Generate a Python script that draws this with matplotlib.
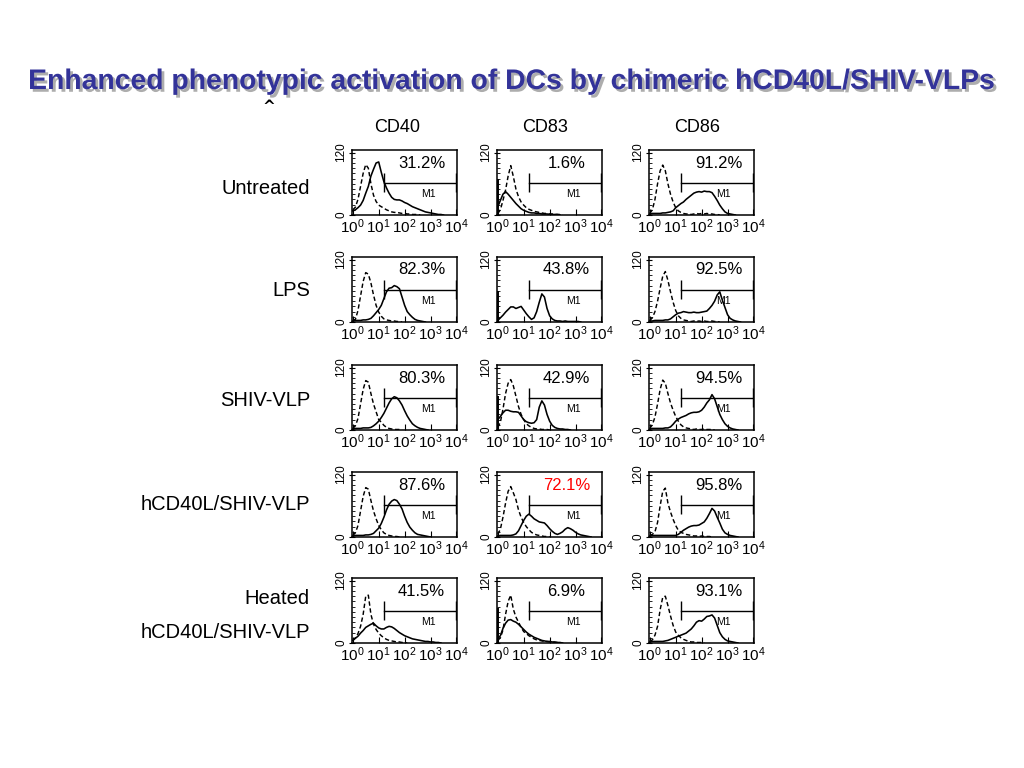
import numpy as np
import matplotlib
matplotlib.use("Agg")
import matplotlib.pyplot as plt
import matplotlib.patheffects as pe
from matplotlib import font_manager
from matplotlib.ticker import MultipleLocator

plt.rcParams["font.family"] = ["Liberation Sans", "DejaVu Sans"]
plt.rcParams["mathtext.fontset"] = "custom"
plt.rcParams["mathtext.rm"] = "Liberation Sans"
plt.rcParams["mathtext.it"] = "Liberation Sans:italic"
plt.rcParams["mathtext.bf"] = "Liberation Sans:bold"

# channel grid: log10 fluorescence, 0.1 decade steps
decades = np.round(np.arange(0, 4.01, 0.1), 1)

markers = ["CD40", "CD83", "CD86"]
treatments = ["Untreated", "LPS", "SHIV-VLP", "hCD40L/SHIV-VLP", "Heated\nhCD40L/SHIV-VLP"]

# percent of cells inside gate M1 (rows = treatments, cols = markers)
percents = [
    ["31.2%", "1.6%", "91.2%"],
    ["82.3%", "43.8%", "92.5%"],
    ["80.3%", "42.9%", "94.5%"],
    ["87.6%", "72.1%", "95.8%"],
    ["41.5%", "6.9%", "93.1%"],
]

# counts piled up in the first channel (CD83 column)
first_bin_cd83 = [70, 60, 65, 0, 67]

# ---- isotype control (dashed) and stained (solid) histograms, counts ----
untreated_cd40_iso = [10, 15, 30, 55, 80, 97, 90, 60, 38, 26,
                      19, 16, 13, 10, 8, 6, 5, 5, 4, 3,
                      3, 2, 2, 1, 1, 1, 0]
untreated_cd40 = [8, 10, 14, 19, 28, 42, 55, 75, 88, 100,
                  102, 82, 64, 52, 42, 34, 30, 29, 29, 27,
                  24, 22, 19, 16, 14, 12, 10, 8, 6, 5,
                  4, 3, 2, 1, 1, 0]
untreated_cd83_iso = [3, 10, 28, 48, 75, 95, 74, 50, 35, 25,
                      19, 14, 11, 9, 7, 6, 5, 4, 3, 3,
                      2, 2, 1, 1, 1, 0]
untreated_cd83 = [16, 28, 40, 45, 40, 34, 28, 22, 17, 12,
                  9, 7, 5, 4, 4, 3, 3, 2, 2, 2,
                  1, 1, 1, 1, 0]
untreated_cd86_iso = [3, 10, 30, 60, 85, 96, 85, 60, 40, 25,
                      14, 8, 5, 3, 2, 2, 1, 2, 3, 2,
                      3, 2, 3, 2, 2, 1, 1, 0]
untreated_cd86 = [2, 3, 3, 3, 3, 4, 4, 5, 6, 8,
                  14, 18, 22, 25, 30, 34, 38, 42, 44, 45,
                  44, 46, 45, 45, 43, 36, 28, 19, 12, 6,
                  3, 2, 1, 0]

lps_cd40_iso = [3, 5, 22, 50, 78, 95, 92, 75, 52, 32,
                19, 11, 6, 4, 3, 2, 2, 1, 1, 0]
lps_cd40 = [2, 3, 3, 3, 4, 4, 5, 7, 12, 18,
            24, 32, 45, 58, 65, 66, 70, 68, 64, 48,
            32, 20, 14, 9, 5, 3, 2, 1, 0]
lps_cd83_iso = []
lps_cd83 = [3, 8, 13, 19, 24, 29, 29, 26, 28, 30,
            23, 16, 10, 5, 8, 20, 38, 54, 48, 26,
            12, 6, 3, 2, 2, 1, 2, 1, 1, 1,
            1, 1, 0]
lps_cd86_iso = [3, 8, 20, 40, 65, 88, 97, 80, 58, 38,
                22, 12, 7, 4, 3, 2, 1, 2, 1, 2,
                1, 2, 1, 1, 2, 1, 1, 0]
lps_cd86 = [2, 2, 3, 3, 3, 3, 4, 4, 6, 10,
            14, 17, 18, 20, 19, 18, 18, 19, 18, 18,
            19, 20, 21, 26, 32, 40, 52, 58, 42, 28,
            14, 7, 4, 2, 1, 0]

shiv_cd40_iso = [3, 8, 22, 50, 78, 95, 92, 70, 50, 35,
                 20, 15, 9, 5, 3, 2, 1, 1, 1, 0]
shiv_cd40 = [2, 3, 3, 3, 4, 4, 4, 5, 8, 12,
             17, 24, 32, 42, 52, 60, 64, 62, 56, 48,
             37, 27, 19, 12, 8, 5, 3, 2, 1, 0]
shiv_cd83_iso = [5, 15, 40, 70, 90, 97, 85, 65, 45, 30,
                 20, 12, 8, 5, 3, 2, 2, 1, 1, 1, 0]
shiv_cd83 = [20, 26, 33, 38, 38, 36, 35, 35, 34, 27,
             20, 16, 14, 13, 14, 20, 44, 56, 48, 30,
             17, 9, 5, 3, 2, 2, 1, 1, 0]
shiv_cd86_iso = [3, 10, 25, 50, 78, 96, 90, 70, 52, 38,
                 26, 17, 10, 6, 4, 3, 2, 1, 2, 1,
                 1, 2, 1, 1, 1, 0]
shiv_cd86 = [2, 3, 3, 3, 3, 3, 4, 4, 6, 11,
             17, 21, 24, 26, 28, 31, 33, 34, 34, 35,
             38, 44, 52, 58, 68, 60, 45, 30, 20, 12,
             7, 4, 2, 1, 0]

hcd_cd40_iso = [3, 8, 22, 50, 78, 95, 92, 70, 50, 35,
                22, 14, 8, 5, 3, 2, 1, 1, 0]
hcd_cd40 = [2, 3, 3, 3, 3, 4, 4, 5, 7, 12,
            17, 26, 38, 52, 63, 69, 72, 70, 63, 54,
            40, 28, 19, 13, 8, 5, 4, 3, 2, 1, 0]
hcd_cd83_iso = [5, 15, 38, 65, 88, 97, 85, 72, 52, 38,
                28, 20, 14, 9, 6, 4, 3, 2, 1, 1, 0]
hcd_cd83 = [2, 3, 3, 3, 3, 3, 4, 6, 12, 22,
            32, 40, 44, 40, 35, 32, 29, 28, 27, 22,
            16, 11, 7, 5, 7, 10, 15, 18, 16, 13,
            9, 6, 4, 3, 2, 1, 0]
hcd_cd86_iso = [3, 5, 10, 28, 60, 88, 94, 65, 48, 34,
                22, 13, 9, 7, 5, 4, 3, 2, 2, 1,
                2, 1, 1, 1, 0]
hcd_cd86 = [2, 3, 3, 3, 3, 3, 3, 3, 3, 3,
            3, 5, 9, 13, 16, 19, 21, 22, 22, 23,
            26, 29, 36, 45, 55, 50, 38, 27, 15, 8,
            5, 3, 2, 1, 0]

heat_cd40_iso = [5, 10, 18, 32, 55, 90, 92, 55, 36, 26,
                 19, 14, 10, 7, 5, 4, 3, 2, 2, 1,
                 1, 0]
heat_cd40 = [5, 9, 13, 19, 24, 30, 33, 36, 38, 33,
             29, 27, 27, 30, 32, 31, 28, 24, 20, 17,
             14, 12, 10, 8, 7, 6, 5, 4, 3, 3,
             2, 2, 1, 1, 0]
heat_cd83_iso = [5, 10, 25, 55, 80, 92, 65, 50, 40, 30,
                 22, 18, 14, 11, 8, 6, 5, 4, 3, 3,
                 2, 2, 1, 1, 0]
heat_cd83 = [8, 14, 28, 38, 44, 45, 42, 40, 36, 31,
             26, 21, 17, 14, 11, 9, 7, 5, 4, 3,
             3, 2, 2, 1, 1, 0]
heat_cd86_iso = [3, 6, 15, 32, 64, 88, 90, 72, 52, 34,
                 21, 15, 10, 7, 5, 3, 2, 2, 1, 1,
                 1, 0]
heat_cd86 = [2, 3, 3, 3, 3, 3, 4, 5, 7, 9,
             11, 13, 15, 17, 19, 23, 27, 33, 40, 43,
             42, 46, 51, 52, 54, 48, 34, 20, 12, 7,
             4, 3, 2, 1, 0]

isotype = [
    [untreated_cd40_iso, untreated_cd83_iso, untreated_cd86_iso],
    [lps_cd40_iso, lps_cd83_iso, lps_cd86_iso],
    [shiv_cd40_iso, shiv_cd83_iso, shiv_cd86_iso],
    [hcd_cd40_iso, hcd_cd83_iso, hcd_cd86_iso],
    [heat_cd40_iso, heat_cd83_iso, heat_cd86_iso],
]
stained = [
    [untreated_cd40, untreated_cd83, untreated_cd86],
    [lps_cd40, lps_cd83, lps_cd86],
    [shiv_cd40, shiv_cd83, shiv_cd86],
    [hcd_cd40, hcd_cd83, hcd_cd86],
    [heat_cd40, heat_cd83, heat_cd86],
]

fig = plt.figure(figsize=(10.24, 7.68), dpi=100)
W, H = 1024, 768

col_left = [352, 497, 649]
row_top = [150, 257, 365, 472, 578]
ax_w, ax_h = 105, 65

for r in range(5):
    for c in range(3):
        ax = fig.add_axes([col_left[c] / W, 1 - (row_top[r] + ax_h) / H, ax_w / W, ax_h / H])
        x_iso = 10 ** decades[:len(isotype[r][c])]
        x_st = 10 ** decades[:len(stained[r][c])]
        if len(isotype[r][c]):
            ax.plot(x_iso, isotype[r][c], color="black", lw=1.05, ls=(0, (3, 1.8)))
        ax.plot(x_st, stained[r][c], color="black", lw=1.15)
        if c == 1 and first_bin_cd83[r] > 0:
            ax.vlines(1, 0, first_bin_cd83[r], color="black", lw=1.4)

        # M1 gate marker
        ax.plot([10 ** 1.2, 10 ** 4.0], [62, 62], color="black", lw=1.0)
        ax.vlines([10 ** 1.2, 10 ** 4.0], 44, 80, color="black", lw=1.0)
        ax.text(10 ** 2.9 if c < 2 else 10 ** 2.85, 40, "M1", fontsize=7.5,
                ha="center", va="center")
        ax.text(10 ** 2.65, 100, percents[r][c], fontsize=12, ha="center", va="center",
                color="red" if percents[r][c] == "72.1%" else "black")

        ax.set_xscale("log")
        ax.set_xlim(10 ** -0.03, 10 ** 4.02)
        ax.set_ylim(0, 125)
        ax.set_xticks([1, 10, 100, 1000, 10000])
        ax.set_yticks([0, 120])
        ax.set_yticklabels(["0", "120"], rotation=90, va="center", fontsize=8.5)
        ax.yaxis.set_minor_locator(MultipleLocator(10))
        ax.tick_params(axis="x", which="major", labelsize=11, direction="in", length=4, pad=2)
        ax.tick_params(axis="x", which="minor", direction="in", length=2.5)
        ax.tick_params(axis="y", which="major", direction="inout", length=5, pad=1)
        ax.tick_params(axis="y", which="minor", direction="in", length=2.5)
        for sp in ax.spines.values():
            sp.set_linewidth(1.1)

# column headers
for c, name in enumerate(markers):
    fig.text([397, 545, 697][c] / W, 1 - 128 / H, name, fontsize=13, ha="center", va="center")

# row labels
row_label_y = [188, 291, 401, 504]
for r in range(4):
    fig.text(310 / W, 1 - row_label_y[r] / H, treatments[r], fontsize=14.5,
             ha="right", va="center")
fig.text(310 / W, 1 - 598 / H, "Heated", fontsize=14.5, ha="right", va="center")
fig.text(310 / W, 1 - 633 / H, "hCD40L/SHIV-VLP", fontsize=14.5, ha="right", va="center")

# title with drop shadow; condensed face if available
try:
    font_manager.findfont(font_manager.FontProperties(family="Liberation Sans Narrow", weight="bold"),
                          fallback_to_default=False)
    title_family, title_size = "Liberation Sans Narrow", 23
except ValueError:
    title_family, title_size = "Liberation Sans", 20.4
fig.text(0.5, 1 - 82 / H, "Enhanced phenotypic activation of DCs by chimeric hCD40L/SHIV-VLPs",
         fontsize=title_size, fontweight="bold", family=title_family, color="#333399",
         ha="center", va="center",
         path_effects=[pe.withSimplePatchShadow(offset=(2, -2), shadow_rgbFace="#999999", alpha=0.8)])
fig.text(269 / W, 1 - 106 / H, "^", fontsize=11, fontweight="bold", ha="center", va="center",
         family="DejaVu Sans")

fig.savefig("out.png", dpi=100)
